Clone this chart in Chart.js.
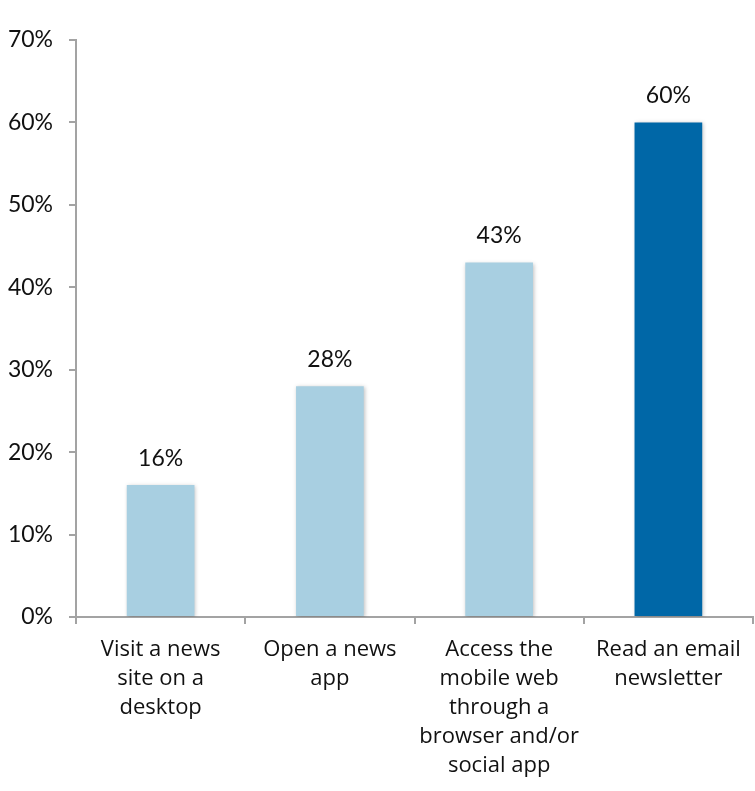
<!DOCTYPE html>
<html>
<head>
<meta charset="utf-8">
<script src="https://cdn.jsdelivr.net/npm/chart.js@4/dist/chart.umd.min.js"></script>
<style>
  html, body { margin: 0; padding: 0; background: #fff; }
  #wrap { width: 755px; height: 791px; }
</style>
</head>
<body>
<div id="wrap"><canvas id="newsChart" width="755" height="791"></canvas></div>
<script>
// ---- data ----
const categories = [
    ['Visit a news', 'site on a', 'desktop'],
    ['Open a news', 'app'],
    ['Access the', 'mobile web', 'through a', 'browser and/or', 'social app'],
    ['Read an email', 'newsletter']
];
const values = [16, 28, 43, 60];
const barColors = ['#a8cfe1', '#a8cfe1', '#a8cfe1', '#0067a7'];
const yTicks = [0, 10, 20, 30, 40, 50, 60, 70];

const NUM_FONT = 'Lato, "Open Sans", sans-serif';
const LABEL_FONT = '"Open Sans", Lato, sans-serif';
const AXIS_GREY = '#a3a3a3';

// value labels above each bar
const valueLabels = {
    id: 'valueLabels',
    afterDatasetsDraw(chart) {
        const ctx = chart.ctx;
        const meta = chart.getDatasetMeta(0);
        ctx.save();
        ctx.font = '23px ' + NUM_FONT;
        ctx.fillStyle = '#111';
        ctx.textAlign = 'center';
        ctx.textBaseline = 'bottom';
        meta.data.forEach((bar, i) => {
            ctx.fillText(values[i] + '%', bar.x, bar.y - 15);
        });
        ctx.restore();
    }
};

// soft shadow behind bars
const barShadow = {
    id: 'barShadow',
    beforeDatasetsDraw(chart) {
        const ctx = chart.ctx;
        ctx.save();
        ctx.shadowColor = 'rgba(0,0,0,0.25)';
        ctx.shadowBlur = 4;
        ctx.shadowOffsetX = 1;
        ctx.shadowOffsetY = 1;
    },
    afterDatasetsDraw(chart) {
        chart.ctx.restore();
    }
};

new Chart(document.getElementById('newsChart'), {
    type: 'bar',
    data: {
        labels: categories,
        datasets: [{
            data: values,
            backgroundColor: barColors,
            borderWidth: 0,
            categoryPercentage: 1,
            barPercentage: 0.4
        }]
    },
    options: {
        responsive: false,
        animation: false,
        layout: { padding: { top: 40, right: 2, left: 0, bottom: 0 } },
        plugins: {
            legend: { display: false },
            tooltip: { enabled: false }
        },
        scales: {
            x: {
                grid: {
                    drawOnChartArea: false,
                    drawTicks: true,
                    tickLength: 7,
                    color: AXIS_GREY,
                    lineWidth: 2,
                    offset: true
                },
                border: { color: AXIS_GREY, width: 2 },
                ticks: {
                    color: '#111',
                    font: { family: LABEL_FONT, size: 22, lineHeight: 1.32 },
                    padding: 11,
                    maxRotation: 0,
                    autoSkip: false
                },
                afterFit(axis) { axis.height = 174; }
            },
            y: {
                min: 0,
                max: 70,
                afterBuildTicks(axis) {
                    axis.ticks = yTicks.map(v => ({ value: v }));
                },
                grid: {
                    drawOnChartArea: false,
                    drawTicks: true,
                    tickLength: 7,
                    color: AXIS_GREY,
                    lineWidth: 2
                },
                border: { color: AXIS_GREY, width: 2 },
                ticks: {
                    color: '#111',
                    font: { family: NUM_FONT, size: 23 },
                    padding: 16,
                    callback: v => v + '%'
                },
                afterFit(axis) { axis.width = 76; }
            }
        }
    },
    plugins: [barShadow, valueLabels]
});
</script>
</body>
</html>
